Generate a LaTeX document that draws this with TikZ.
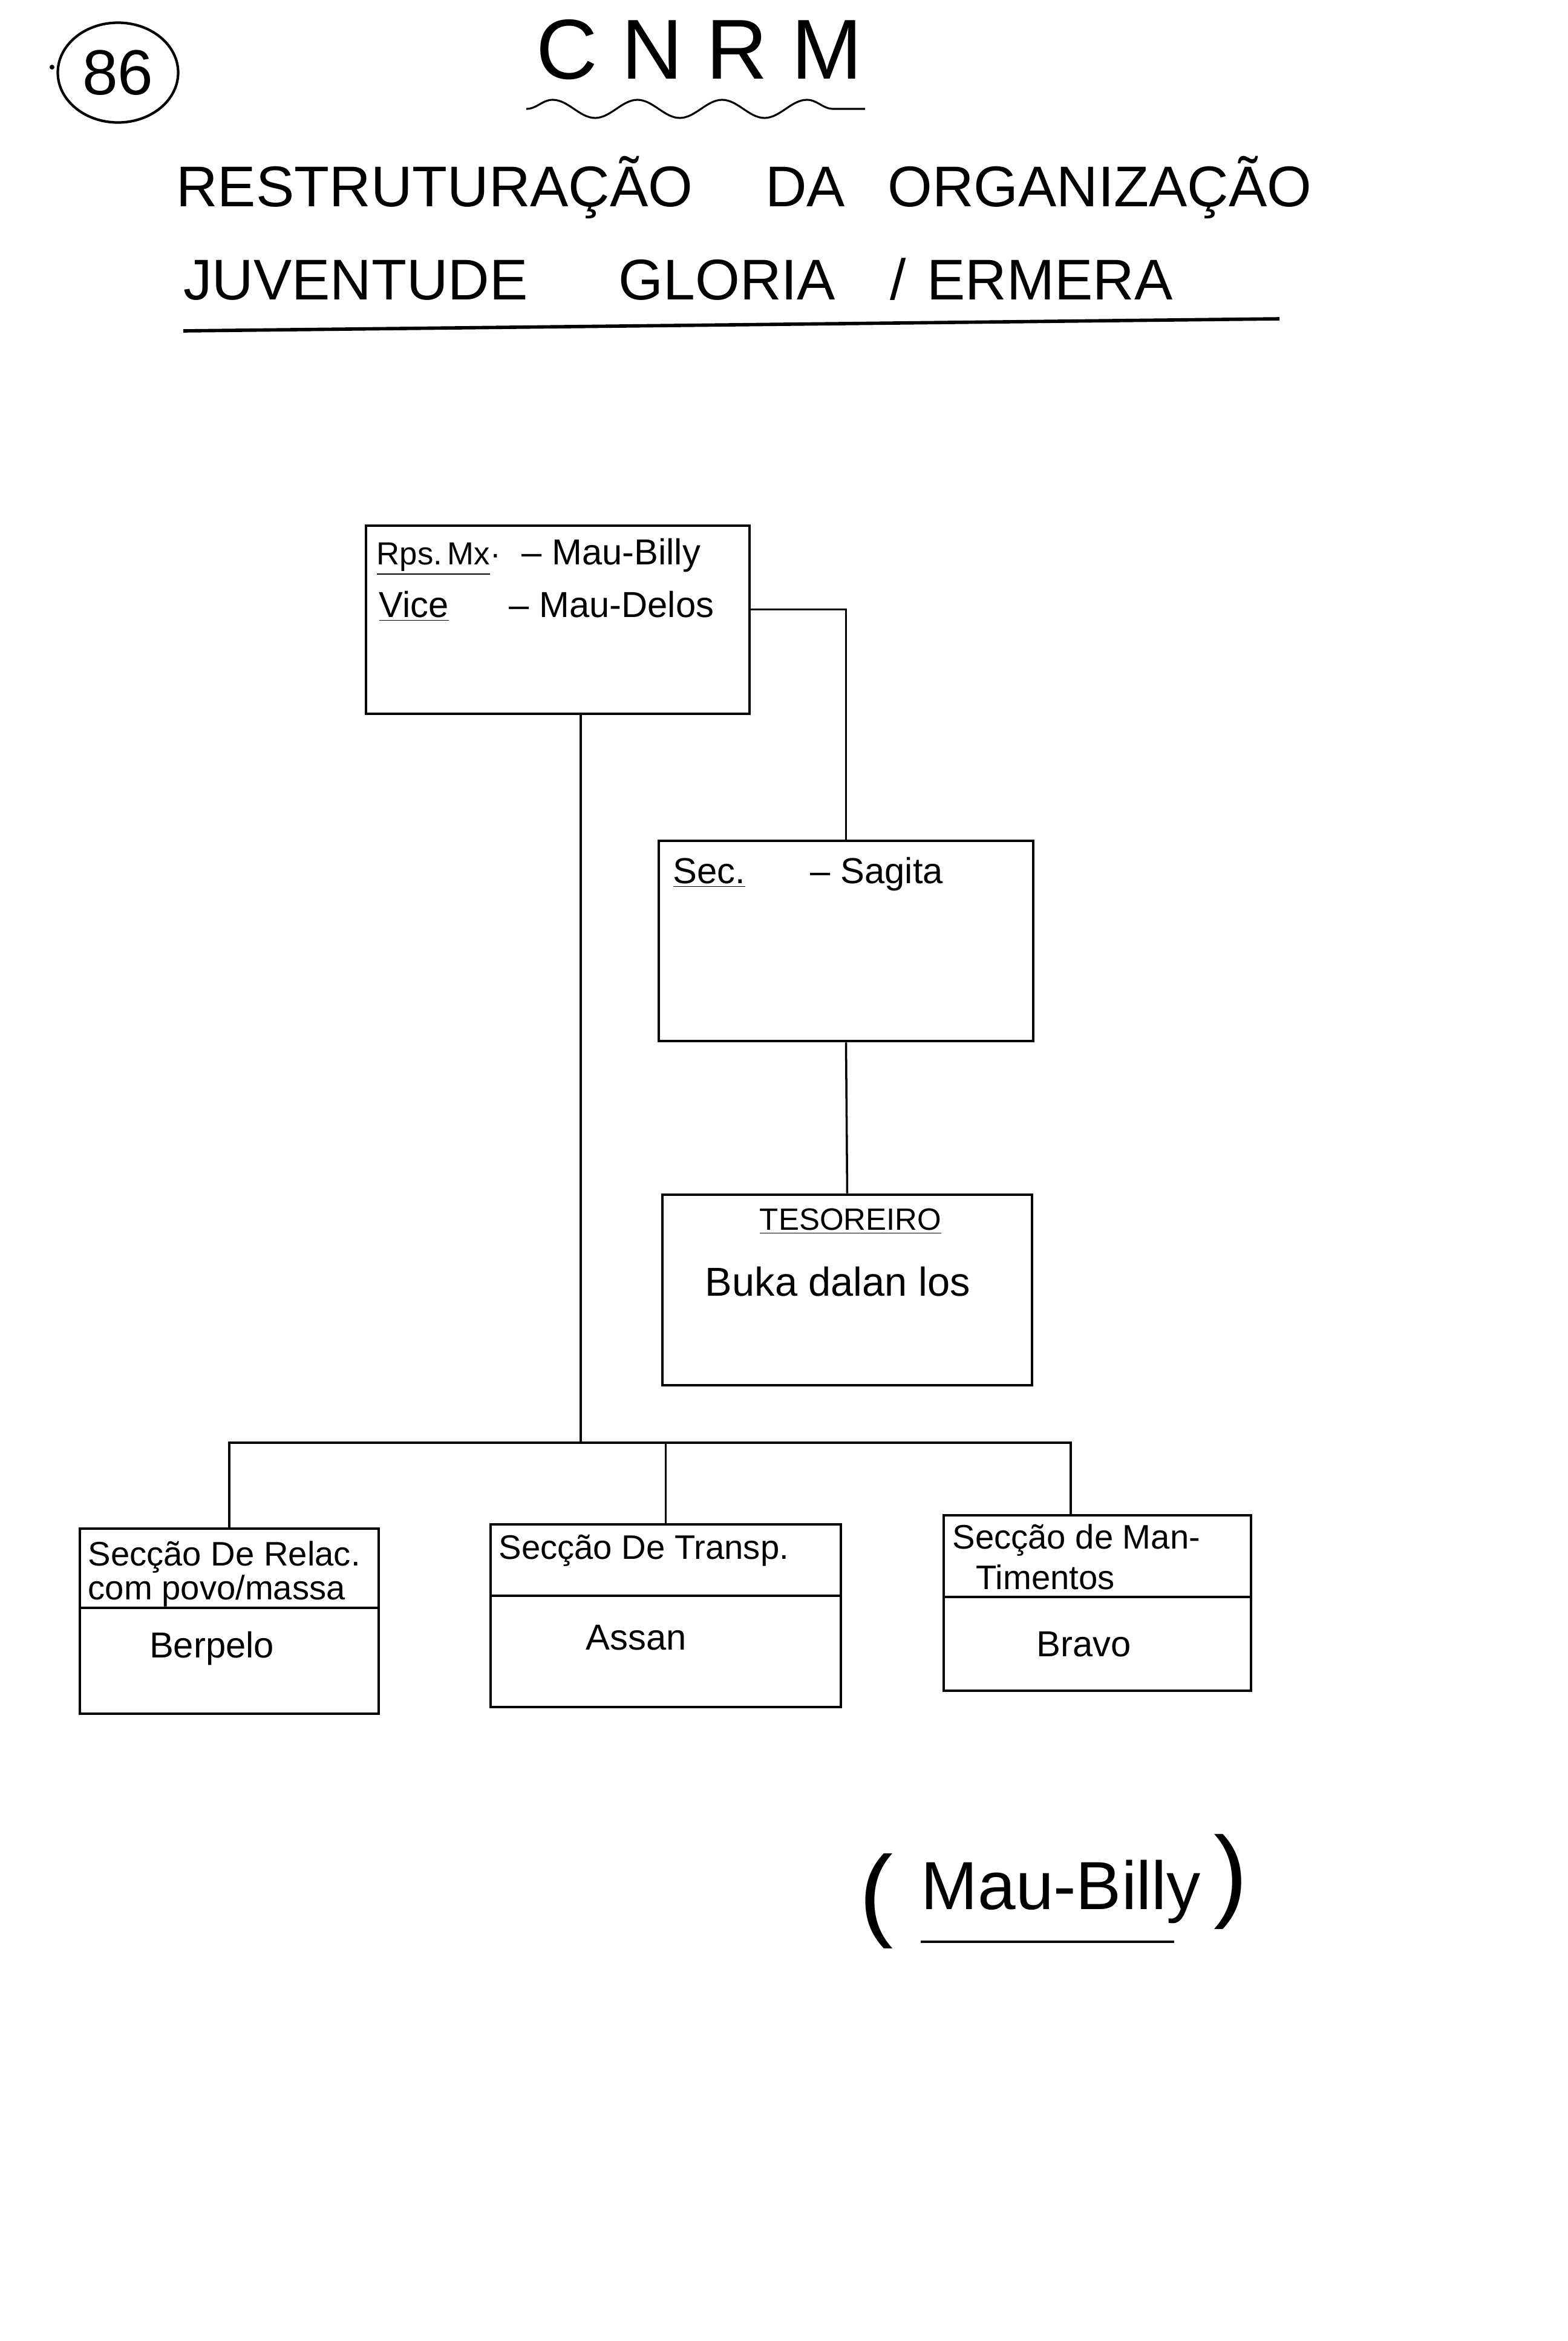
\documentclass[tikz,border=0pt]{standalone}
\usepackage{fontspec}
\setmainfont{Liberation Sans}
\usetikzlibrary{shapes,positioning,calc,decorations.pathmorphing}

\begin{document}
\begin{tikzpicture}[
    box/.style={rectangle, draw, line width=1.3pt, inner sep=0pt},
    hand/.style={inner sep=0pt, font=\fontsize{17}{17}\selectfont},
    sect/.style={inner sep=0pt, font=\fontsize{16}{16}\selectfont},
    head/.style={inner sep=0pt, font=\fontsize{27}{27}\selectfont},
    link/.style={line width=1pt},
    split/.style={line width=1pt}
]

\useasboundingbox (0,0) rectangle (25.92,-38.70);

% Header
\fill (0.86,-1.11) circle (0.04);
\node[draw, ellipse, line width=1.2pt, minimum width=1.3cm, minimum height=1.65cm, font=\fontsize{30}{30}\selectfont] (pageNo) at (1.95,-1.2) {86};
\node[inner sep=0pt, font=\fontsize{40}{40}\selectfont, anchor=base] (cnrm) at (11.56,-1.30) {C N R M};
\draw[line width=0.9pt, decorate, decoration={snake, amplitude=0.15cm, segment length=1.4cm}] (8.70,-1.80) -- (14.30,-1.80);
\node[head, anchor=base] (titleA) at (12.3,-3.41) {RESTRUTURAÇÃO\hspace{1.2cm}DA\hspace{0.7cm}ORGANIZAÇÃO};
\node[head, anchor=base] (titleB) at (11.21,-4.95) {JUVENTUDE\hspace{1.5cm}GLORIA\hspace{0.9cm}/\hspace{0.35cm}ERMERA};
\draw[line width=1.6pt] (3.03,-5.47) -- (21.15,-5.27);

% President
\node[box, minimum width=6.34cm, minimum height=3.11cm] (pres) at (9.22,-10.245) {};
\node[hand, anchor=base west, font=\fontsize{15}{15}\selectfont] (presRole) at (6.22,-9.33) {\underline{Rps.\,Mx}·};
\node[hand, anchor=base west] (presName) at (8.62,-9.33) {– Mau-Billy};
\node[hand, anchor=base west] (viceRole) at (6.26,-10.20) {\underline{Vice}};
\node[hand, anchor=base west] (viceName) at (8.41,-10.20) {– Mau-Delos};

% Secretary
\node[box, minimum width=6.19cm, minimum height=3.31cm] (sec) at (13.985,-15.555) {};
\node[hand, anchor=base west] (secRole) at (11.12,-14.60) {\underline{Sec.}};
\node[hand, anchor=base west] (secName) at (13.39,-14.60) {– Sagita};

% Treasurer
\node[box, minimum width=6.11cm, minimum height=3.15cm] (tes) at (14.005,-21.325) {};
\node[hand, anchor=base, font=\fontsize{14.5}{14.5}\selectfont] (tesRole) at (14.06,-20.33) {\underline{TESOREIRO}};
\node[hand, anchor=base, font=\fontsize{19}{19}\selectfont] (tesName) at (13.85,-21.42) {Buka dalan los};

% Sections
\node[box, minimum width=4.94cm, minimum height=3.06cm] (rel) at (3.79,-26.80) {};
\node[sect, anchor=base west] (relTitle) at (1.45,-25.88) {Secção De Relac.};
\node[sect, anchor=base west] (relTitleB) at (1.45,-26.44) {com povo/massa};
\node[hand, anchor=base] (relName) at (3.50,-27.40) {Berpelo};
\draw[split] ([yshift=-1.33cm]rel.north west) -- ([yshift=-1.33cm]rel.north east);

\node[box, minimum width=5.79cm, minimum height=3.02cm] (trans) at (11.005,-26.71) {};
\node[sect, anchor=base west] (transTitle) at (8.24,-25.77) {Secção De Transp.};
\node[hand, anchor=base] (transName) at (10.52,-27.27) {Assan};
\draw[split] ([yshift=-1.20cm]trans.north west) -- ([yshift=-1.20cm]trans.north east);

\node[box, minimum width=5.08cm, minimum height=2.90cm] (mant) at (18.14,-26.50) {};
\node[sect, anchor=base west] (mantTitle) at (15.74,-25.60) {Secção de Man-};
\node[sect, anchor=base west] (mantTitleB) at (16.13,-26.27) {Timentos};
\node[hand, anchor=base] (mantName) at (17.92,-27.38) {Bravo};
\draw[split] ([yshift=-1.37cm]mant.north west) -- ([yshift=-1.37cm]mant.north east);

% Links
\draw[link] ([yshift=0.17cm]pres.east) -| (sec.north);
\draw[link] (sec.south) -- (tes.north);
\coordinate (bus) at (9.6,-23.85);
\draw[link] (pres.south -| bus) -- (bus);
\draw[link] (rel.north) |- (bus) -| ([xshift=-0.44cm]mant.north);
\draw[link] (trans.north) -- (trans.north |- bus);

% Signature
\node[inner sep=0pt, font=\fontsize{32}{32}\selectfont] (sign) at (17.54,-31.27) {Mau-Billy};
\node[inner sep=0pt, font=\fontsize{48}{48}\selectfont, left=0.45cm of sign, yshift=-0.16cm] (lparen) {(};
\node[inner sep=0pt, font=\fontsize{48}{48}\selectfont, right=0.2cm of sign, yshift=0.16cm] (rparen) {)};
\draw[line width=1pt] ([yshift=-0.3cm]sign.south west) -- ([yshift=-0.3cm, xshift=-0.45cm]sign.south east);

\end{tikzpicture}
\end{document}
